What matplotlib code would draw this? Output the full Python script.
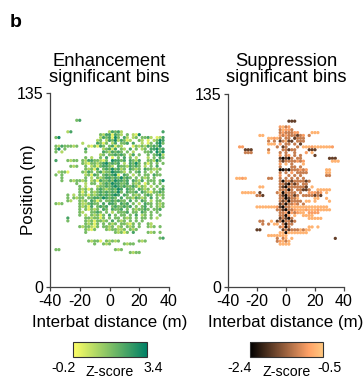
import numpy as np
import matplotlib
matplotlib.use("Agg")
import matplotlib.pyplot as plt

plt.rcParams["font.family"] = ["Liberation Sans", "DejaVu Sans"]
plt.rcParams["axes.unicode_minus"] = False

# Bin grid: column j -> x = -36 + 2j, row i -> y = 116 - 2i
X_START, Y_TOP, STEP = -36, 116, 2

# Z-score level of each significant bin ('.' = not significant)
EN_LEVELS = {"1": 0.2, "2": 0.9, "3": 1.7, "4": 2.4, "5": 3.1}
SU_LEVELS = {"1": -2.3, "2": -1.8, "3": -1.2, "4": -0.9, "5": -0.7}

EN_ROWS = [
    ".......34",
    "",
    "",
    "",
    "....24............24342.............4",
    "...............32441432.3.215",
    "35.............2434153.42.23.3342.124",
    "..............23.243524312..32.1.2354",
    ".........2....4313.24.334.4..2.13.453",
    "32433323...213143.34132...1323243435",
    "35.3......4.....23414.32.4.3.23.44534",
    "3.2.......3.....4324343.3.2...334.535",
    "...............23.334343.24.3..3.3452",
    "..........3.2..3.4.1.3.4.3.2...2.3.43",
    "4...3233.324433213.54434.4324..33253",
    ".........3213323453434.2.4353.313.3.3",
    ".....323..3.23134432.43324343.2.3.4",
    "..........32314.34353423.4323.433223.",
    ".2331....3243.3423354432.3.34.3.2.3",
    "3.3.......23143.343451.43.2.3.33.433",
    "..3.......3.2.323443435343.3.323.3",
    "..3..323323.2314334354434.4324.333.35",
    ".......3..2.33.2343544334.323.13.3.3",
    "........3.2...23343454343343132.2.3.3",
    "........32313.343234354.433.4323.3.34",
    "........313.32343434353.4334.43213343",
    "....3.2.32313234343454.43.323.343.323",
    "....3.3233.3344354343.4.3324323.4.3.3",
    "....32..323.4313.3343433.4.3.43.2.33",
    "323.....3223433.4.443.434.3.2.433.323",
    "........32314.3434.3433434.3.34.3.323",
    "........3.31323.43.4334.3.323343.334",
    "........32..3343.3.2.3334.33.43.3.3",
    "........3.2.32313.4.3.33.3.4.23.3..3",
    "....4.....3323313.3.33.323.3.33.3.2",
    "....3.....32313323.4.323.3.3.3",
    "..........32313.3.323.33213.3..32",
    "........3233213.3323.23.323.3..323.3",
    "..........3213...3233223.323",
    "..........3.........32313.4....323.3",
    "",
    "...................................34",
    "...........32331.32323......323",
    ".............3..323....3233",
    "",
    "33..................323",
    ".........................3233",
]

SU_ROWS = [
    "...................222",
    "",
    "................4534",
    "................35443",
    "................3433344....555",
    ".........55.....434333234.3",
    "............55453.33.2333",
    "............3.3.23522.333",
    "............555.4.33.3.2",
    "..44...........3.23...3.55545555554",
    "....222.....3....33233....222",
    "....333.....5...3.3..3...4.5",
    "................4.34.3.3....2",
    "................21213.33.........222",
    "................323333434.........555",
    "................4.5.3...5",
    "................3...33.3",
    "................1121333434......55",
    "................3.3.4.3333......55",
    "................4..3.3.3........33",
    ".5545.......33..3.3.3.3.3",
    "................31332333323",
    "................3321323.33",
    ".........55.....3213333332.5",
    "................33313.33223..55555",
    "...55555.2.....3513333.3..44434.5",
    "........332.....3213323.3333232",
    "................3312335.....55..5",
    "................32313333.55.5....5",
    "................2313343.3",
    "........5555555421335555555555555",
    "...............3321334555455545555",
    "................334143455.4444",
    "................3314.5..5555",
    "................23213.....55555",
    ".........33..5.2313323",
    "..........3.3.55.3133",
    "................3413......55.5",
    "........22.......2323335355",
    "................5515555555",
    "............5555555",
    "...............3.35.5..............2",
    "...............34535",
    "................5555",
]

EN_RANGE = (-0.2, 3.4)
SU_RANGE = (-2.4, -0.5)
X_TICKS = [-40, -20, 0, 20, 40]
Y_TICKS = [0, 135]


def grid_points(rows, levels):
    xs, ys, zs = [], [], []
    for i, row in enumerate(rows):
        for j, ch in enumerate(row):
            if ch in levels:
                xs.append(X_START + STEP * j)
                ys.append(Y_TOP - STEP * i)
                zs.append(levels[ch])
    return np.array(xs), np.array(ys), np.array(zs)


W, H = 364, 381


def box(left, top, right, bottom):
    return [left / W, 1 - bottom / H, (right - left) / W, (bottom - top) / H]


fig = plt.figure(figsize=(W / 100, H / 100), dpi=100)

panels = [
    (box(50, 93, 169, 287), EN_ROWS, EN_LEVELS, "summer_r", EN_RANGE,
     "Enhancement\nsignificant bins", box(73, 342, 147, 357)),
    (box(228, 94, 344, 287), SU_ROWS, SU_LEVELS, "copper", SU_RANGE,
     "Suppression\nsignificant bins", box(250, 342, 323, 357)),
]

for rect, rows, levels, cmap, (vmin, vmax), title, cbox in panels:
    ax = fig.add_axes(rect)
    x, y, z = grid_points(rows, levels)
    sc = ax.scatter(x, y, c=z, cmap=cmap, vmin=vmin, vmax=vmax,
                    s=5.5, linewidths=0)
    ax.set_xlim(-40, 40)
    ax.set_ylim(0, 135)
    ax.set_xticks(X_TICKS)
    ax.set_yticks(Y_TICKS)
    for side in ["top", "right"]:
        ax.spines[side].set_visible(False)
    for side in ["left", "bottom"]:
        ax.spines[side].set_color("#444444")
        ax.spines[side].set_linewidth(0.9)
    ax.tick_params(direction="out", length=3, width=0.9, color="#444444",
                   labelsize=11.5, pad=2)

    # title above the panel
    cx = rect[0] + rect[2] / 2
    fig.text(cx, 1 - 86 / H, title, ha="center", va="bottom",
             fontsize=13.2, linespacing=0.95)
    fig.text(cx, 1 - 323 / H, "Interbat distance (m)", ha="center",
             va="center", fontsize=12.2)

    # colour bar below
    cax = fig.add_axes(cbox)
    cb = fig.colorbar(sc, cax=cax, orientation="horizontal")
    cb.set_ticks([])
    cb.outline.set_linewidth(0.8)
    cb.outline.set_edgecolor("#333333")
    l = cbox[0] * W
    r = (cbox[0] + cbox[2]) * W
    fig.text((l - 10) / W, 1 - 372 / H, f"{vmin:g}", ha="center",
             va="baseline", fontsize=10.2)
    fig.text((r + 6) / W, 1 - 372 / H, f"{vmax:g}", ha="center",
             va="baseline", fontsize=10.2)
    fig.text((l + r) / 2 / W, 1 - 376 / H, "Z-score", ha="center",
             va="baseline", fontsize=10.2)

fig.text(29 / W, 1 - 190 / H, "Position (m)", rotation=90, ha="center",
         va="center", fontsize=12.2)
fig.text(10 / W, 1 - 27 / H, "b", fontsize=14, fontweight="bold",
         va="baseline")

fig.savefig("out.png", dpi=100)
